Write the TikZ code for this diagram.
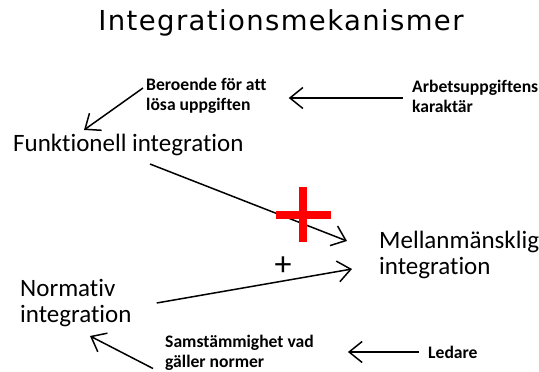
\documentclass[tikz,border=0pt]{standalone}
\usepackage{fontspec}
\setmainfont[RawFeature=-liga]{Carlito}
\newfontfamily\titlefont[LetterSpace=5]{DejaVu Sans}
\usetikzlibrary{arrows.meta}
\begin{document}
\begin{tikzpicture}[x=1pt,y=-1pt,
  lbl/.style={anchor=west,inner sep=0pt,align=left},
  small/.style={lbl,font=\fontsize{17.6}{20}\selectfont\bfseries},
  big/.style={lbl,font=\fontsize{25}{25.5}\selectfont},
  conn/.style={line width=1.5pt,-{Straight Barb[length=13pt,width=21pt,line width=1.5pt]}}]
\useasboundingbox (0,0) rectangle (539,372);
\node[inner sep=0pt,font=\titlefont\fontsize{27.5}{32}\selectfont] (title) at (281,23) {Integrationsmekanismer};
\node[small] (beroende) at (146,96) {Beroende för att\\lösa uppgiften};
\node[small] (arbet) at (412,96) {Arbetsuppgiftens\\karaktär};
\node[big] (funk) at (13,145) {Funktionell integration};
\node[big] (mellan) at (379,255) {Mellanmänsklig\\integration};
\node[big] (norm) at (20,303) {Normativ\\integration};
\node[small] (samst) at (165,352.5) {Samstämmighet vad\\gäller normer};
\node[small] (ledare) at (428,352) {Ledare};
\node[inner sep=0pt,font=\fontsize{34}{34}\selectfont] (plus) at (283,266) {+};
\draw[conn] ([shift={(-9,2)}]arbet.west) -- ([shift={(22,2)}]beroende.east);
\draw[conn] ([shift={(-3,-8)}]beroende.west) -- ([shift={(71,-4)}]funk.north west);
\draw[conn] ([shift={(137,8)}]funk.south west) -- ([shift={(-32,-14)}]mellan.west);
\draw[conn] ([shift={(25,0)}]norm.east) -- ([shift={(-27,14)}]mellan.west);
\draw[conn] ([shift={(-12,16)}]samst.west) -- ([shift={(70,33)}]norm.west);
\draw[conn] ([xshift=-9pt]ledare.west) -- ([shift={(34,-0.5)}]samst.east);
\fill[red] (276,211) rectangle (331,219);
\fill[red] (299,187) rectangle (307,242);
\end{tikzpicture}
\end{document}
